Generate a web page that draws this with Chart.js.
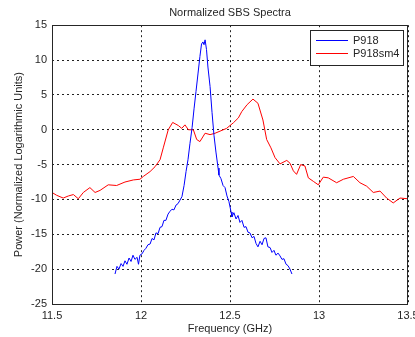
<!DOCTYPE html>
<html>
<head>
<meta charset="utf-8">
<title>Normalized SBS Spectra</title>
<script src="https://cdn.jsdelivr.net/npm/chart.js@4/dist/chart.umd.min.js"></script>
<style>
  html, body { margin: 0; padding: 0; background: #fff; }
  canvas { display: block; }
</style>
</head>
<body>
<canvas id="spectra" width="415" height="337"></canvas>
<script>
// P918sm4 (red)
const redFreq = [11.5, 11.526, 11.563, 11.592, 11.62, 11.648, 11.676, 11.713, 11.742, 11.77,
  11.816, 11.863, 11.91, 11.957, 11.994, 12.013, 12.051, 12.079, 12.107, 12.125,
  12.153, 12.178, 12.21, 12.229, 12.247, 12.266, 12.294, 12.313, 12.331, 12.36,
  12.388, 12.416, 12.444, 12.481, 12.519, 12.547, 12.566, 12.596, 12.629, 12.657,
  12.685, 12.706, 12.73, 12.753, 12.781, 12.819, 12.837, 12.856, 12.874, 12.897,
  12.921, 12.94, 12.968, 12.996, 13.024, 13.052, 13.099, 13.137, 13.193, 13.23,
  13.268, 13.305, 13.343, 13.38, 13.417, 13.455, 13.5];
const redPower = [-9.0, -9.4, -9.8, -9.5, -9.3, -9.9, -9.0, -8.3, -9.0, -8.7,
  -7.9, -8.0, -7.5, -7.2, -7.1, -6.7, -6.0, -5.3, -4.3, -2.6,
  0.0, 1.05, 0.6, 0.2, 0.7, 0.0, 0.0, -1.4, -1.7, -0.5,
  -0.7, -0.5, -0.2, 0.2, 1.0, 1.7, 2.6, 3.6, 4.4, 3.8,
  1.4, -1.4, -2.6, -4.0, -4.9, -4.4, -4.8, -5.9, -6.4, -5.0,
  -5.2, -6.9, -7.4, -7.9, -6.8, -6.9, -7.6, -7.1, -6.7, -7.6,
  -8.1, -9.0, -8.8, -9.8, -10.5, -9.8, -9.9];

// P918 (blue)
const bluFreq = [11.854, 11.865, 11.876, 11.888, 11.899, 11.91, 11.921, 11.933, 11.944, 11.955,
  11.966, 11.978, 11.986, 11.994, 12.006, 12.017, 12.028, 12.039, 12.051, 12.062,
  12.073, 12.084, 12.096, 12.107, 12.118, 12.129, 12.14, 12.152, 12.163, 12.174,
  12.185, 12.197, 12.208, 12.219, 12.23, 12.242, 12.253, 12.264, 12.275, 12.287,
  12.298, 12.309, 12.32, 12.331, 12.34, 12.348, 12.354, 12.36, 12.368, 12.376,
  12.388, 12.399, 12.41, 12.421, 12.433, 12.438, 12.449, 12.461, 12.472, 12.483,
  12.494, 12.506, 12.511, 12.522, 12.534, 12.545, 12.556, 12.567, 12.579, 12.59,
  12.601, 12.612, 12.624, 12.635, 12.646, 12.657, 12.669, 12.68, 12.691, 12.702,
  12.713, 12.725, 12.736, 12.747, 12.758, 12.77, 12.781, 12.792, 12.803, 12.815,
  12.826, 12.837, 12.848];
const bluPower = [-20.7, -19.6, -20.0, -19.2, -19.6, -18.8, -19.3, -18.4, -18.9, -18.0,
  -18.6, -18.3, -19.3, -18.0, -17.8, -17.3, -17.0, -16.5, -16.4, -15.6,
  -15.8, -14.8, -14.9, -14.0, -13.9, -13.0, -13.0, -12.1, -11.7, -11.4,
  -11.5, -10.8, -10.6, -10.1, -9.6, -8.0, -6.0, -4.3, -2.0, 0.3,
  3.0, 5.5, 8.0, 10.5, 12.3, 12.6, 12.2, 12.9, 11.5, 9.0,
  6.2, 2.5, -0.8, -3.2, -5.5, -6.5, -7.0, -8.0, -8.3, -9.5,
  -10.3, -11.8, -12.5, -11.9, -12.8, -12.3, -13.3, -13.0, -14.0, -13.9,
  -14.7, -14.8, -15.5, -15.3, -16.3, -16.8, -16.0, -16.5, -15.6, -15.5,
  -16.8, -16.9, -17.6, -17.3, -18.0, -17.7, -18.1, -18.6, -18.5, -19.3,
  -19.5, -20.0, -20.7];

const xTicks = [11.5, 12, 12.5, 13, 13.5];
const yTicks = [-25, -20, -15, -10, -5, 0, 5, 10, 15];
const seriesNames = ['P918', 'P918sm4'];

const textColor = '#262626';
const fontFamily = '"Liberation Sans", Arial, sans-serif';

function toPoints(xs, ys) {
  return xs.map((x, i) => ({ x: x, y: ys[i] }));
}

// box round the axes plus the legend in the top right corner
const boxAndLegend = {
  id: 'boxAndLegend',
  afterDatasetsDraw(chart) {
    const { ctx, chartArea: a } = chart;
    ctx.save();
    ctx.strokeStyle = '#262626';
    ctx.lineWidth = 1;
    ctx.strokeRect(Math.round(a.left) + 0.5, Math.round(a.top) + 0.5,
      Math.round(a.right - a.left) - 1, Math.round(a.bottom - a.top));

    const lx = 310.5, ly = 30.5, lw = 93, lh = 35;
    ctx.fillStyle = '#fff';
    ctx.fillRect(lx, ly, lw, lh);
    ctx.strokeRect(lx, ly, lw, lh);
    ctx.font = '11px ' + fontFamily;
    ctx.textBaseline = 'middle';
    ctx.textAlign = 'left';
    chart.data.datasets.forEach((ds, i) => {
      const y = 40.5 + i * 13;
      ctx.strokeStyle = ds.borderColor;
      ctx.beginPath();
      ctx.moveTo(316, y);
      ctx.lineTo(348, y);
      ctx.stroke();
      ctx.fillStyle = textColor;
      ctx.fillText(ds.label, 353, y + 0.5);
    });
    ctx.restore();
  }
};

new Chart(document.getElementById('spectra'), {
  type: 'line',
  data: {
    datasets: [
      { label: seriesNames[0], data: toPoints(bluFreq, bluPower), borderColor: '#0000ff' },
      { label: seriesNames[1], data: toPoints(redFreq, redPower), borderColor: '#ff0000' }
    ]
  },
  options: {
    responsive: false,
    animation: false,
    devicePixelRatio: 1,
    layout: { padding: { left: 0, right: 7, top: 0, bottom: 0 } },
    elements: {
      line: { borderWidth: 1, tension: 0, fill: false },
      point: { radius: 0 }
    },
    plugins: {
      legend: { display: false },
      tooltip: { enabled: false },
      title: {
        display: true,
        text: 'Normalized SBS Spectra',
        fullSize: false,
        color: textColor,
        font: { family: fontFamily, size: 11, weight: 'normal' },
        padding: { top: 6, bottom: 6 }
      }
    },
    scales: {
      x: {
        type: 'linear',
        min: 11.5,
        max: 13.5,
        afterBuildTicks: s => { s.ticks = xTicks.map(v => ({ value: v })); },
        afterFit: s => { s.height = 33; s.paddingLeft = 0; s.paddingRight = 0; },
        ticks: {
          color: textColor,
          font: { family: fontFamily, size: 11 },
          padding: 5,
          maxRotation: 0,
          callback: v => String(v)
        },
        grid: { color: '#222', drawTicks: false },
        border: { display: false, dash: [2, 3] },
        title: {
          display: true,
          text: 'Frequency (GHz)',
          color: textColor,
          font: { family: fontFamily, size: 11 },
          padding: { top: 0, bottom: 1 }
        }
      },
      y: {
        min: -25,
        max: 15,
        afterBuildTicks: s => { s.ticks = yTicks.map(v => ({ value: v })); },
        afterFit: s => { s.width = 52; s.paddingTop = 0; s.paddingBottom = 0; },
        ticks: {
          color: textColor,
          font: { family: fontFamily, size: 11 },
          padding: 5,
          callback: v => String(v)
        },
        grid: { color: '#222', drawTicks: false },
        border: { display: false, dash: [2, 3] },
        title: {
          display: true,
          text: 'Power (Normalized Logarithmic Units)',
          color: textColor,
          font: { family: fontFamily, size: 11 },
          padding: { top: 12, bottom: 0 }
        }
      }
    }
  },
  plugins: [boxAndLegend]
});
</script>
</body>
</html>
